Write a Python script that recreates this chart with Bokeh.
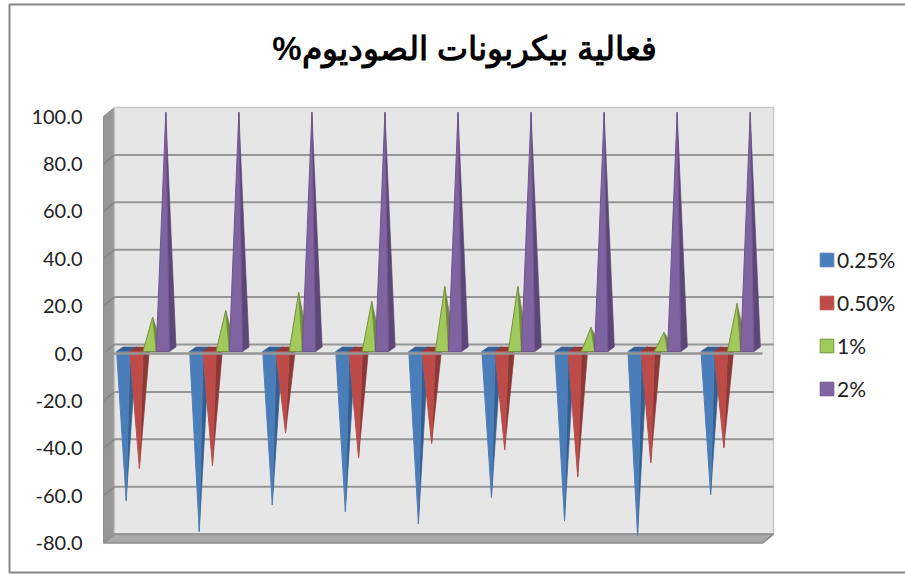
from bokeh.plotting import figure
from bokeh.models import (Legend, LegendItem, FixedTicker, Range1d,
                          BoxAnnotation, Label, NumeralTickFormatter)
from bokeh.embed import file_html
from bokeh.resources import INLINE

# ---- data ----
series_names = ["0.25%", "0.50%", "1%", "2%"]
s025 = [-63, -76, -64.7, -67.6, -72.7, -61.7, -71.4, -77.7, -60.5]
s050 = [-49.5, -48.3, -34.5, -45, -39, -41.6, -53, -47, -40.8]
s100 = [14, 16.8, 24.4, 20.6, 26.9, 26.9, 9.7, 7.6, 19.7]
s200 = [100, 100, 100, 100, 100, 100, 100, 100, 100]
tick_values = [100, 80, 60, 40, 20, 0, -20, -40, -60, -80]
title_text = "فعالية بيكربونات الصوديوم%\u200f"

front_cols = ["#4a7ebb", "#be4b48", "#a2c95c", "#8064a2"]
side_cols = ["#355f91", "#8c3836", "#71893f", "#5c4776"]
top_cols = ["#376092", "#953735", "#76923c", "#5f497a"]
edge_cols = ["#4f7fb5", "#b5504d", "#76923c", "#6f5690"]

# ---- scale of the 3-D box, in data units ----
CAT_PX, Y_PX = 73.05, 2.37
px_x = lambda n: n / CAT_PX
px_y = lambda n: n / Y_PX
STEP = px_x(13.2)
DX, DY = px_x(11), px_y(9)            # depth of the box
WALL_L = px_x(103 - 125.7)            # front left of the box
WALL_R = WALL_L + px_x(659)           # front right of the box
Y_LO, Y_HI = tick_values[-1], tick_values[0]

x_range = Range1d(px_x(0 - 125.7), px_x(905 - 125.7))
y_range = Range1d(px_y(353 - 574), px_y(353 - 0))

p = figure(width=905, height=574, x_range=x_range, y_range=y_range,
           output_backend="svg", toolbar_location=None, tools="",
           min_border_left=0, min_border_right=0, min_border_top=0, min_border_bottom=0,
           background_fill_color="white", border_fill_color="white", outline_line_color=None)
p.xaxis.visible = False
p.xgrid.visible = False
p.ygrid.visible = False

# title
p.add_layout(Label(x=px_x(464 - 125.7), y=px_y(353 - 48), text=title_text,
                   text_align="center", text_baseline="alphabetic",
                   text_font="Liberation Sans", text_font_size="33px",
                   text_font_style="bold", text_color="black"))

# box walls
p.patch([WALL_L, WALL_L + DX, WALL_L + DX, WALL_L],
        [Y_HI, Y_HI + DY, Y_LO + DY, Y_LO], fill_color="#969696", line_color="#8c8c8c", line_width=1)
p.patch([WALL_L + DX, WALL_R + DX, WALL_R + DX, WALL_L + DX],
        [Y_HI + DY, Y_HI + DY, Y_LO + DY, Y_LO + DY],
        fill_color="#e6e6e6", line_color="#c8c8c8", line_width=1.5)
p.patch([WALL_L, WALL_L + DX, WALL_R + DX, WALL_R],
        [Y_LO, Y_LO + DY, Y_LO + DY, Y_LO], fill_color="#a8a8a8", line_color="#8c8c8c", line_width=1.5)

# gridlines on wall
grid_vals = tick_values[1:-1]
p.segment(x0=[WALL_L + DX] * len(grid_vals), y0=[v + DY for v in grid_vals],
          x1=[WALL_R + DX] * len(grid_vals), y1=[v + DY for v in grid_vals],
          line_color="#969696", line_width=2)
p.segment(x0=[WALL_L] * len(grid_vals), y0=grid_vals,
          x1=[WALL_L + DX] * len(grid_vals), y1=[v + DY for v in grid_vals],
          line_color="#858585", line_width=1.5)

# pyramids
BASE = px_y(353 - 351)
ZERO = px_y(353 - 350)
BACK = px_y(4.5)
WL, WR, WD = px_x(9.6), px_x(3.7), px_x(6.5)
SCALE = 1.005
legend_items = []
for s, vals in enumerate([s025, s050, s100, s200]):
    front_x, front_y, side_x, side_y, top_x, top_y = [], [], [], [], [], []
    for i, v in enumerate(vals):
        tx = i + s * STEP
        ty = ZERO + v * SCALE
        front_x.append([tx - WL, tx + WR, tx])
        front_y.append([BASE, BASE, ty])
        side_x.append([tx + WR, tx + WR + WD, tx])
        side_y.append([BASE, BASE + BACK, ty])
        if v < 0:
            top_x.append([tx - WL, tx + WR, tx + WR + WD, tx - WL + WD])
            top_y.append([BASE, BASE, BASE + BACK, BASE + BACK])
    p.patches(side_x, side_y, fill_color=side_cols[s], line_color=side_cols[s], line_width=0.7)
    if top_x:
        p.patches(top_x, top_y, fill_color=top_cols[s], line_color=top_cols[s], line_width=0.7)
    r = p.patches(front_x, front_y, fill_color=front_cols[s], line_color=edge_cols[s], line_width=1)
    legend_items.append(LegendItem(label=series_names[s], renderers=[r]))

# front axis line
p.segment(x0=[WALL_L], y0=[0], x1=[WALL_R], y1=[0], line_color="#969696", line_width=2.5)

# axis, sitting on the front edge of the box inside the frame
ax = p.yaxis[0]
ax.fixed_location = WALL_L
ax.ticker = FixedTicker(ticks=tick_values)
ax.formatter = NumeralTickFormatter(format="0.0")
ax.axis_line_color = None
ax.major_tick_line_color = None
ax.minor_tick_line_color = None
ax.major_label_standoff = 15
ax.major_label_text_font = "Lato"
ax.major_label_text_font_size = "20px"
ax.major_label_text_color = "#222222"

# legend
legend = Legend(items=legend_items, location=(818, 173), orientation="vertical",
                background_fill_alpha=0, border_line_color=None,
                glyph_width=17, glyph_height=17, label_standoff=2,
                label_text_font="Lato", label_text_font_size="21px", label_text_color="#222222",
                label_height=20, spacing=18, padding=0, margin=0)
p.add_layout(legend)

# outer frame of the chart
p.add_layout(BoxAnnotation(left=9, right=908, top=4, bottom=572,
                           left_units="canvas", right_units="canvas",
                           top_units="canvas", bottom_units="canvas",
                           fill_alpha=0, line_color="#868686", line_alpha=1, line_width=2))

open("out.html", "w").write(file_html(p, INLINE))
